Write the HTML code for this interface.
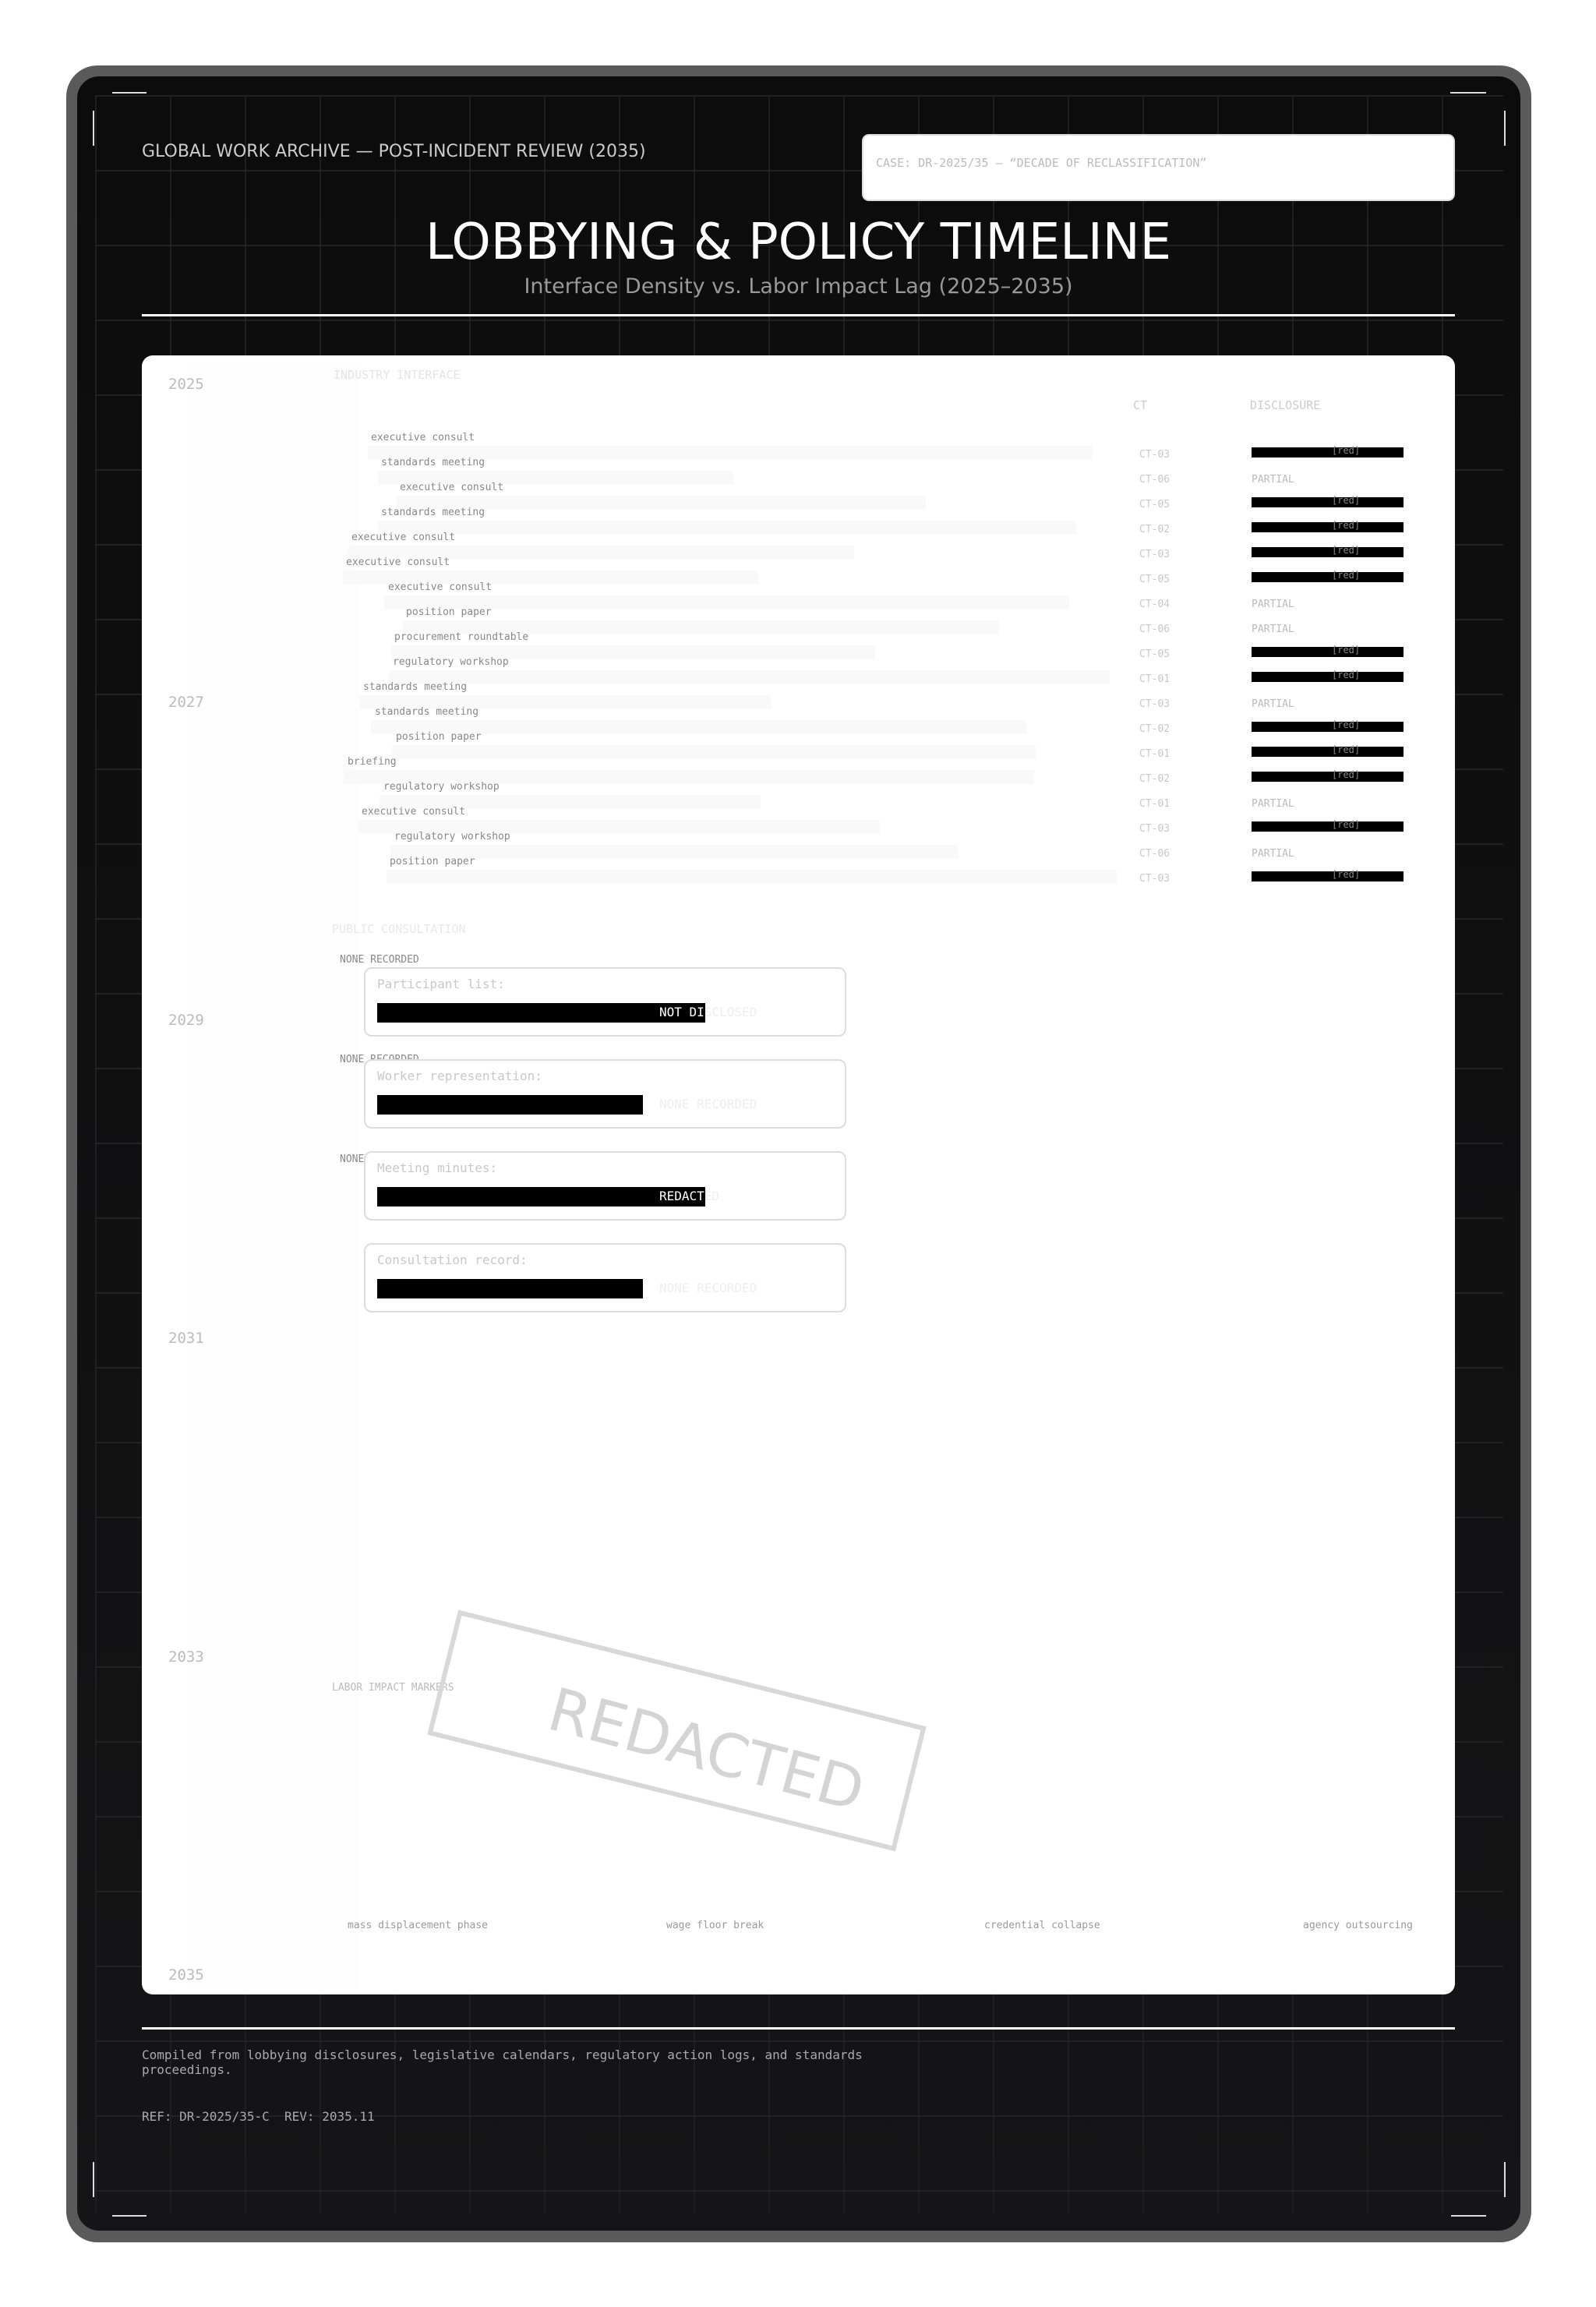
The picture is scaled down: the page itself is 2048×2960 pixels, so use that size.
<!DOCTYPE html>
<html><head><meta charset="utf-8"><style>
*{margin:0;padding:0;box-sizing:border-box}
body{width:2048px;height:2960px;background:#fff;position:relative;overflow:hidden;font-family:"DejaVu Sans","Liberation Sans",sans-serif}
.a{position:absolute;white-space:nowrap}
.m{font-family:"DejaVu Sans Mono","Liberation Mono",monospace}
#frame{position:absolute;left:85px;top:84px;width:1880px;height:2793px;background:#5a5a5a;border-radius:40px}
#inner{position:absolute;left:99px;top:98px;width:1852px;height:2764px;background:linear-gradient(#0c0c0c,#151517);border-radius:28px;overflow:hidden}
#grid{position:absolute;left:122px;top:122px;width:1807px;height:2718px;
background-image:linear-gradient(#222 2px,transparent 2px),linear-gradient(90deg,#1f1f1f 2px,transparent 2px);
background-size:96px 96px;background-position:0 0,0 0}
.wl{position:absolute;background:#ddd}
.row-l{font-size:13px;color:#888}
.bar{position:absolute;height:18px;background:#f9f9f9}
.ct{font-size:13px;color:#c8c8c8}
.red{position:absolute;width:195px;height:13px;background:#000}
.red span{position:absolute;left:103px;top:-3px;font-size:12px;color:#888;font-family:"DejaVu Sans Mono",monospace}
.box{position:absolute;left:467px;width:619px;height:89px;border:2px solid #ddd;border-radius:10px;background:#fff}
.bl{position:absolute;left:15px;top:10px;font-size:16px;color:#c8c8c8;white-space:nowrap}
.bb{position:absolute;left:15px;top:44px;height:25px;background:#000;overflow:hidden}
.bt{position:absolute;top:46px;left:377px;font-size:16px;color:#eee;white-space:nowrap}
</style></head><body>
<div id="frame"></div>
<div id="inner"></div>
<div id="grid"></div>

<div class="wl" style="left:144px;top:118px;width:44px;height:2px"></div>
<div class="wl" style="left:1861px;top:118px;width:46px;height:2px"></div>
<div class="wl" style="left:119px;top:142px;width:2px;height:45px"></div>
<div class="wl" style="left:1930px;top:142px;width:2px;height:45px"></div>
<div class="wl" style="left:144px;top:2842px;width:44px;height:2px"></div>
<div class="wl" style="left:1862px;top:2842px;width:45px;height:2px"></div>
<div class="wl" style="left:119px;top:2774px;width:2px;height:45px"></div>
<div class="wl" style="left:1930px;top:2774px;width:2px;height:45px"></div>

<div class="a" style="left:182px;top:182px;font-size:22px;color:#ccc">GLOBAL WORK ARCHIVE — POST-INCIDENT REVIEW (2035)</div>
<div class="a" style="left:1106px;top:172px;width:761px;height:86px;background:#fff;border:2px solid #ddd;border-radius:9px"></div>
<div class="a m" style="left:1124px;top:200px;font-size:15px;color:#bbb">CASE: DR-2025/35 — “DECADE OF RECLASSIFICATION”</div>

<div class="a" style="left:0;width:2049px;text-align:center;top:274px;font-size:64px;color:#fff">LOBBYING &amp; POLICY TIMELINE</div>
<div class="a" style="left:0;width:2049px;text-align:center;top:352px;font-size:27px;color:#999">Interface Density vs. Labor Impact Lag (2025–2035)</div>
<div class="wl" style="left:182px;top:403px;width:1685px;height:3px;background:#fff"></div>

<div class="a" style="left:182px;top:456px;width:1685px;height:2103px;background:#fff;border-radius:14px"></div>
<div class="a" style="left:240px;top:470px;width:220px;height:2080px;background:#fdfdfd"></div>

<div class="a m" style="left:216px;top:482px;font-size:19px;color:#bbb">2025</div>
<div class="a m" style="left:216px;top:890px;font-size:19px;color:#bbb">2027</div>
<div class="a m" style="left:216px;top:1298px;font-size:19px;color:#bbb">2029</div>
<div class="a m" style="left:216px;top:1706px;font-size:19px;color:#bbb">2031</div>
<div class="a m" style="left:216px;top:2115px;font-size:19px;color:#bbb">2033</div>
<div class="a m" style="left:216px;top:2523px;font-size:19px;color:#bbb">2035</div>

<div class="a m" style="left:428px;top:472px;font-size:15px;color:#e4e4e4">INDUSTRY INTERFACE</div>
<div class="a m" style="left:1454px;top:511px;font-size:15px;color:#ccc">CT</div>
<div class="a m" style="left:1604px;top:511px;font-size:15px;color:#ccc">DISCLOSURE</div>

<div id="rows"></div>

<div class="a m" style="left:426px;top:1183px;font-size:15px;color:#e8e8e8">PUBLIC CONSULTATION</div>
<div class="a m" style="left:436px;top:1224px;font-size:13px;color:#888">NONE RECORDED</div>
<div class="a m" style="left:436px;top:1352px;font-size:13px;color:#888">NONE RECORDED</div>
<div class="a m" style="left:436px;top:1480px;font-size:13px;color:#888">NONE RECORDED</div>

<div class="box m" style="top:1241px"><div class="bl">Participant list:</div><div class="bt">NOT DISCLOSED</div><div class="bb" style="width:421px"><div class="bt" style="top:2px;left:362px;color:#fff">NOT DISCLOSED</div></div></div>
<div class="box m" style="top:1359px"><div class="bl">Worker representation:</div><div class="bt">NONE RECORDED</div><div class="bb" style="width:341px"></div></div>
<div class="box m" style="top:1477px"><div class="bl">Meeting minutes:</div><div class="bt">REDACTED</div><div class="bb" style="width:421px"><div class="bt" style="top:2px;left:362px;color:#fff">REDACTED</div></div></div>
<div class="box m" style="top:1595px"><div class="bl">Consultation record:</div><div class="bt">NONE RECORDED</div><div class="bb" style="width:341px"></div></div>

<div class="a m" style="left:426px;top:2158px;font-size:13px;color:#bbb">LABOR IMPACT MARKERS</div>
<div class="a" style="left:559px;top:2138px;width:619px;height:165px;border:6px solid #d8d8d8;transform:rotate(14deg)"></div>
<div class="a" style="left:595px;top:2170px;width:619px;height:165px;text-align:center;line-height:150px;font-size:76px;color:#d4d4d4;transform:rotate(15deg)">REDACTED</div>

<div class="a m" style="left:446px;top:2463px;font-size:13px;color:#999">mass displacement phase</div>
<div class="a m" style="left:855px;top:2463px;font-size:13px;color:#999">wage floor break</div>
<div class="a m" style="left:1263px;top:2463px;font-size:13px;color:#999">credential collapse</div>
<div class="a m" style="left:1672px;top:2463px;font-size:13px;color:#999">agency outsourcing</div>

<div class="wl" style="left:182px;top:2601px;width:1685px;height:3px;background:#fff"></div>
<div class="a m" style="left:182px;top:2627px;font-size:16px;color:#aaa;line-height:19px">Compiled from lobbying disclosures, legislative calendars, regulatory action logs, and standards<br>proceedings.</div>
<div class="a m" style="left:182px;top:2706px;font-size:16px;color:#aaa">REF: DR-2025/35-C&nbsp;&nbsp;REV: 2035.11</div>

<script>
var d=[["executive consult",476,472,1402,"CT-03",1],["standards meeting",489,485,941,"CT-06",0],["executive consult",513,509,1188,"CT-05",1],["standards meeting",489,485,1381,"CT-02",1],["executive consult",451,447,1096,"CT-03",1],["executive consult",444,440,973,"CT-05",1],["executive consult",498,493,1372,"CT-04",0],["position paper",521,517,1282,"CT-06",0],["procurement roundtable",506,502,1123,"CT-05",1],["regulatory workshop",504,499,1424,"CT-01",1],["standards meeting",466,461,990,"CT-03",0],["standards meeting",481,476,1317,"CT-02",1],["position paper",508,503,1329,"CT-01",1],["briefing",446,441,1327,"CT-02",1],["regulatory workshop",492,487,976,"CT-01",0],["executive consult",464,460,1129,"CT-03",1],["regulatory workshop",506,501,1230,"CT-06",0],["position paper",500,496,1433,"CT-03",1]];
var h="";
d.forEach(function(r,i){var y=572+32*i;
h+='<div class="bar" style="left:'+r[2]+'px;top:'+y+'px;width:'+(r[3]-r[2])+'px"></div>';
h+='<div class="a m row-l" style="left:'+r[1]+'px;top:'+(y-18)+'px">'+r[0]+'</div>';
h+='<div class="a m ct" style="left:1462px;top:'+(y+4)+'px">'+r[4]+'</div>';
if(r[5])h+='<div class="red" style="left:1606px;top:'+(y+2)+'px"><span>[red]</span></div>';
else h+='<div class="a m ct" style="left:1606px;top:'+(y+4)+'px;color:#bbb">PARTIAL</div>';});
document.getElementById("rows").innerHTML=h;
</script>
</body></html>
